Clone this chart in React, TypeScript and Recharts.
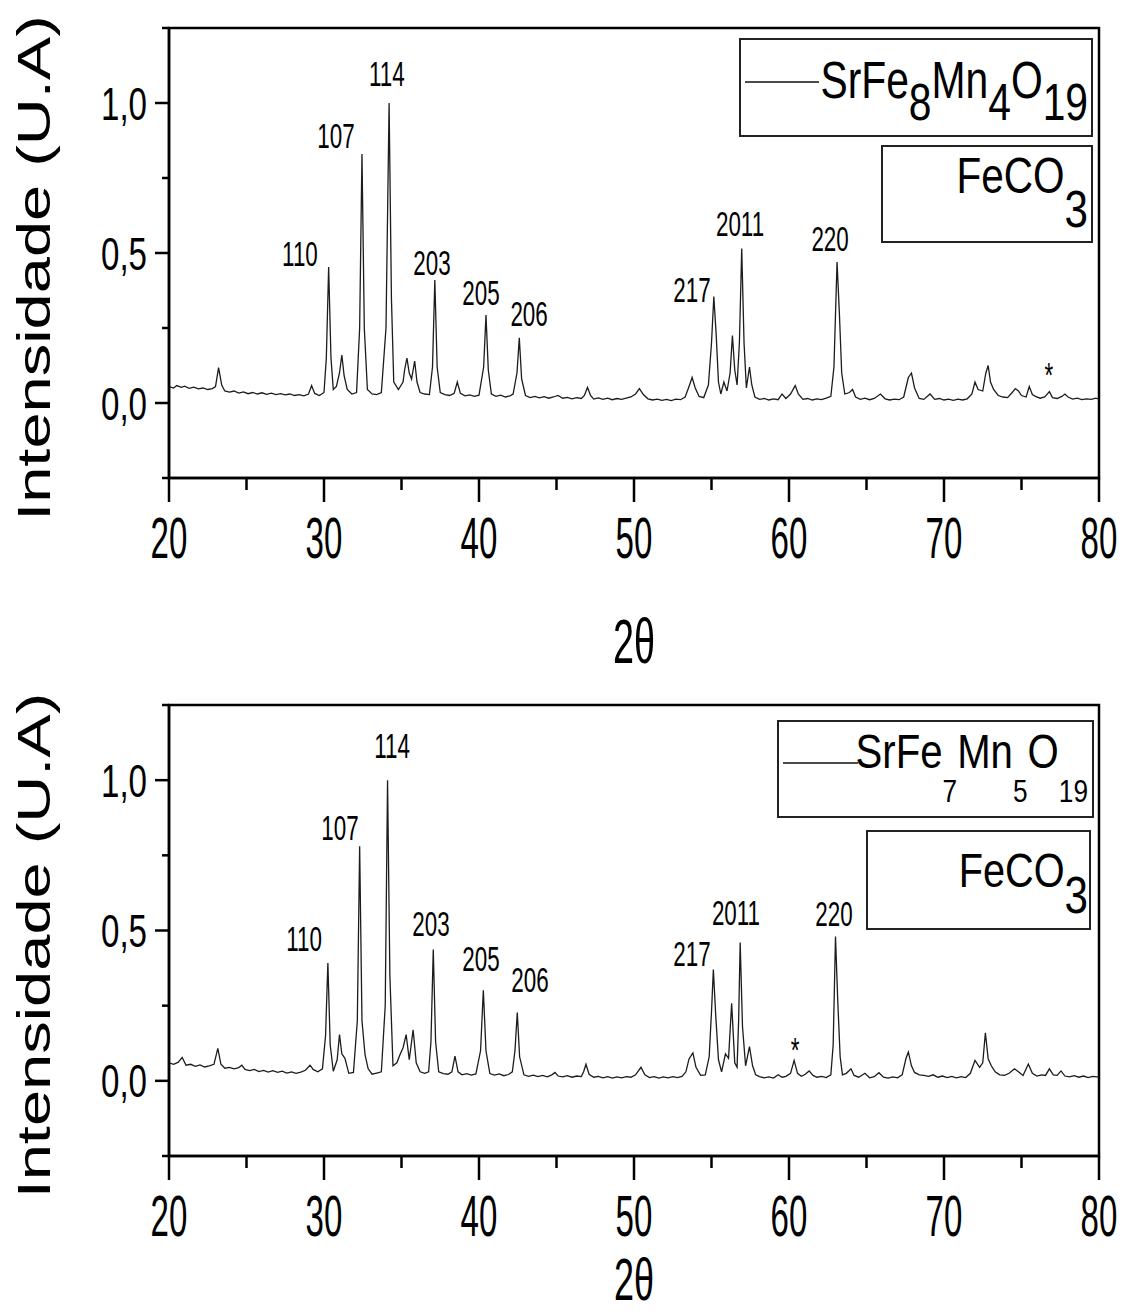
import React from "react";
import {
  ComposedChart,
  Line,
  Scatter,
  XAxis,
  YAxis,
  ReferenceArea,
  Legend,
} from "recharts";

// 2θ ticks (every 5°, labels on multiples of 10)
const xTicks = [20, 25, 30, 35, 40, 45, 50, 55, 60, 65, 70, 75, 80];
// intensity ticks (minor every 0.25, labels on 0, 0.5, 1)
const yTicks = [-0.25, 0, 0.25, 0.5, 0.75, 1, 1.25];
const yTickLabels: Record<string, string> = { "0": "0,0", "0.5": "0,5", "1": "1,0" };

const xTitle = "2θ";
const yTitle = "Intensidade (U.A)";

// legend formulas: even index = normal text, odd index = subscript
const topFormula = ["SrFe", "8", "Mn", "4", "O", "19"];
const bottomFormula = ["SrFe", "7", "Mn", "5", "O", "19"];
const impurityFormula = ["FeCO", "3"];

// SrFe8Mn4O19 pattern [2θ, intensity]
const topPattern: [number, number][] = [
  [20.0, 0.055], [20.3, 0.05], [20.5, 0.058], [20.8, 0.052], [21.0, 0.056], [21.3, 0.049],
  [21.6, 0.053], [21.9, 0.047], [22.2, 0.05], [22.5, 0.045], [22.8, 0.048], [23.0, 0.055],
  [23.2, 0.118], [23.4, 0.06], [23.6, 0.04], [23.9, 0.036], [24.2, 0.04], [24.5, 0.033],
  [24.8, 0.037], [25.1, 0.031], [25.4, 0.035], [25.7, 0.03], [26.0, 0.034], [26.3, 0.029],
  [26.6, 0.033], [26.9, 0.028], [27.2, 0.031], [27.5, 0.027], [27.8, 0.03], [28.1, 0.025],
  [28.4, 0.028], [28.7, 0.024], [29.0, 0.03], [29.2, 0.058], [29.4, 0.032], [29.7, 0.025],
  [30.0, 0.035], [30.15, 0.15], [30.3, 0.453], [30.45, 0.15], [30.6, 0.045], [30.8, 0.055],
  [31.0, 0.1], [31.15, 0.16], [31.3, 0.09], [31.5, 0.045], [31.8, 0.03], [32.1, 0.035],
  [32.3, 0.25], [32.45, 0.83], [32.6, 0.25], [32.8, 0.045], [33.1, 0.03], [33.4, 0.028],
  [33.7, 0.035], [34.0, 0.25], [34.2, 1.0], [34.35, 0.35], [34.5, 0.07], [34.8, 0.045],
  [35.1, 0.07], [35.2, 0.11], [35.35, 0.15], [35.5, 0.1], [35.65, 0.08], [35.85, 0.14],
  [36.0, 0.07], [36.2, 0.035], [36.5, 0.03], [36.8, 0.028], [37.0, 0.12], [37.15, 0.41],
  [37.3, 0.12], [37.5, 0.035], [37.8, 0.028], [38.1, 0.025], [38.4, 0.032], [38.6, 0.07],
  [38.8, 0.032], [39.1, 0.024], [39.4, 0.027], [39.7, 0.022], [40.0, 0.026], [40.3, 0.12],
  [40.45, 0.293], [40.6, 0.11], [40.8, 0.03], [41.1, 0.022], [41.4, 0.026], [41.7, 0.02],
  [42.0, 0.024], [42.2, 0.03], [42.45, 0.1], [42.6, 0.217], [42.75, 0.08], [43.0, 0.025],
  [43.3, 0.018], [43.6, 0.022], [43.9, 0.017], [44.2, 0.021], [44.5, 0.016], [44.8, 0.02],
  [45.1, 0.025], [45.4, 0.016], [45.7, 0.019], [46.0, 0.014], [46.3, 0.018], [46.6, 0.015],
  [46.8, 0.025], [47.0, 0.052], [47.2, 0.025], [47.4, 0.013], [47.7, 0.017], [48.0, 0.012],
  [48.3, 0.016], [48.6, 0.011], [48.9, 0.015], [49.2, 0.012], [49.5, 0.016], [49.8, 0.02],
  [50.1, 0.03], [50.35, 0.048], [50.6, 0.028], [50.9, 0.014], [51.2, 0.01], [51.5, 0.013],
  [51.8, 0.009], [52.1, 0.012], [52.4, 0.008], [52.7, 0.013], [53.0, 0.011], [53.3, 0.02],
  [53.55, 0.055], [53.75, 0.085], [53.95, 0.05], [54.2, 0.022], [54.5, 0.018], [54.8, 0.06],
  [55.0, 0.2], [55.15, 0.355], [55.3, 0.23], [55.45, 0.07], [55.6, 0.03], [55.8, 0.07],
  [56.0, 0.04], [56.2, 0.1], [56.35, 0.225], [56.5, 0.11], [56.65, 0.06], [56.8, 0.2],
  [56.95, 0.515], [57.1, 0.2], [57.25, 0.05], [57.45, 0.12], [57.6, 0.06], [57.8, 0.02],
  [58.1, 0.012], [58.4, 0.015], [58.7, 0.01], [59.0, 0.014], [59.3, 0.011], [59.55, 0.03],
  [59.8, 0.015], [60.1, 0.03], [60.4, 0.058], [60.6, 0.03], [60.9, 0.012], [61.2, 0.015],
  [61.5, 0.01], [61.8, 0.014], [62.1, 0.011], [62.4, 0.016], [62.7, 0.022], [62.9, 0.12],
  [63.1, 0.47], [63.25, 0.3], [63.4, 0.1], [63.6, 0.03], [63.9, 0.035], [64.1, 0.045],
  [64.3, 0.02], [64.6, 0.012], [64.9, 0.016], [65.2, 0.011], [65.5, 0.015], [65.9, 0.03],
  [66.2, 0.014], [66.5, 0.01], [66.8, 0.013], [67.1, 0.011], [67.4, 0.02], [67.7, 0.085],
  [67.9, 0.1], [68.1, 0.05], [68.4, 0.015], [68.7, 0.012], [69.1, 0.03], [69.4, 0.012],
  [69.7, 0.015], [70.0, 0.01], [70.3, 0.013], [70.6, 0.009], [70.9, 0.013], [71.2, 0.01],
  [71.5, 0.014], [71.8, 0.03], [72.0, 0.07], [72.2, 0.045], [72.5, 0.04], [72.7, 0.1],
  [72.85, 0.125], [73.0, 0.07], [73.2, 0.045], [73.5, 0.025], [73.8, 0.02], [74.1, 0.018],
  [74.4, 0.035], [74.6, 0.048], [74.8, 0.04], [75.0, 0.025], [75.3, 0.02], [75.5, 0.055],
  [75.7, 0.028], [75.9, 0.022], [76.2, 0.016], [76.5, 0.02], [76.8, 0.038], [77.0, 0.018],
  [77.3, 0.015], [77.6, 0.022], [77.8, 0.03], [78.0, 0.02], [78.3, 0.013], [78.6, 0.016],
  [78.9, 0.011], [79.2, 0.014], [79.5, 0.012], [79.8, 0.016], [80.0, 0.013],
];

// SrFe7Mn5O19 pattern [2θ, intensity]
const bottomPattern: [number, number][] = [
  [20.0, 0.06], [20.3, 0.055], [20.6, 0.062], [20.85, 0.078], [21.1, 0.052], [21.4, 0.055],
  [21.7, 0.048], [22.0, 0.053], [22.3, 0.046], [22.6, 0.05], [22.9, 0.055], [23.15, 0.108],
  [23.35, 0.055], [23.6, 0.042], [23.9, 0.045], [24.2, 0.04], [24.5, 0.044], [24.7, 0.052],
  [24.9, 0.038], [25.2, 0.034], [25.5, 0.038], [25.8, 0.031], [26.1, 0.035], [26.4, 0.029],
  [26.7, 0.034], [27.0, 0.028], [27.3, 0.032], [27.6, 0.026], [27.9, 0.03], [28.2, 0.025],
  [28.5, 0.029], [28.8, 0.035], [29.1, 0.052], [29.3, 0.038], [29.6, 0.03], [29.9, 0.04],
  [30.1, 0.15], [30.25, 0.392], [30.4, 0.12], [30.6, 0.032], [30.85, 0.07], [31.0, 0.154],
  [31.15, 0.09], [31.35, 0.075], [31.6, 0.025], [31.9, 0.028], [32.15, 0.2], [32.3, 0.78],
  [32.45, 0.2], [32.65, 0.086], [32.85, 0.04], [33.1, 0.022], [33.4, 0.026], [33.7, 0.03],
  [33.95, 0.25], [34.1, 1.0], [34.25, 0.35], [34.45, 0.05], [34.7, 0.06], [34.9, 0.087],
  [35.1, 0.11], [35.3, 0.154], [35.5, 0.07], [35.75, 0.17], [35.95, 0.06], [36.2, 0.03],
  [36.5, 0.025], [36.75, 0.03], [36.9, 0.13], [37.05, 0.437], [37.2, 0.13], [37.4, 0.03],
  [37.7, 0.024], [38.0, 0.022], [38.25, 0.03], [38.45, 0.082], [38.65, 0.03], [38.9, 0.02],
  [39.2, 0.024], [39.5, 0.019], [39.8, 0.023], [40.1, 0.1], [40.28, 0.301], [40.45, 0.1],
  [40.7, 0.024], [41.0, 0.019], [41.3, 0.023], [41.6, 0.017], [41.9, 0.021], [42.15, 0.03],
  [42.32, 0.1], [42.47, 0.227], [42.62, 0.08], [42.9, 0.02], [43.2, 0.015], [43.5, 0.019],
  [43.8, 0.014], [44.1, 0.018], [44.4, 0.013], [44.7, 0.02], [44.9, 0.028], [45.1, 0.016],
  [45.4, 0.013], [45.7, 0.017], [46.0, 0.012], [46.3, 0.016], [46.6, 0.014], [46.75, 0.03],
  [46.9, 0.055], [47.1, 0.022], [47.4, 0.012], [47.7, 0.015], [48.0, 0.01], [48.3, 0.014],
  [48.6, 0.009], [48.9, 0.013], [49.2, 0.01], [49.5, 0.014], [49.8, 0.012], [50.1, 0.02],
  [50.45, 0.045], [50.7, 0.02], [51.0, 0.011], [51.3, 0.014], [51.6, 0.009], [51.9, 0.013],
  [52.2, 0.01], [52.5, 0.014], [52.8, 0.011], [53.1, 0.015], [53.35, 0.03], [53.55, 0.073],
  [53.8, 0.093], [54.0, 0.045], [54.3, 0.018], [54.6, 0.02], [54.85, 0.08], [55.0, 0.23],
  [55.12, 0.37], [55.27, 0.22], [55.45, 0.07], [55.65, 0.03], [55.9, 0.09], [56.1, 0.075],
  [56.3, 0.258], [56.5, 0.06], [56.65, 0.045], [56.75, 0.2], [56.85, 0.46], [57.0, 0.18],
  [57.2, 0.05], [57.45, 0.114], [57.65, 0.05], [57.85, 0.02], [58.1, 0.014], [58.4, 0.01],
  [58.7, 0.013], [59.0, 0.009], [59.3, 0.02], [59.55, 0.012], [59.8, 0.015], [60.1, 0.025],
  [60.33, 0.068], [60.55, 0.025], [60.8, 0.015], [61.05, 0.022], [61.3, 0.033], [61.55, 0.018],
  [61.8, 0.012], [62.1, 0.015], [62.4, 0.011], [62.7, 0.02], [62.85, 0.12], [63.0, 0.48],
  [63.15, 0.26], [63.3, 0.08], [63.45, 0.02], [63.7, 0.025], [64.0, 0.04], [64.2, 0.018],
  [64.5, 0.012], [64.9, 0.025], [65.2, 0.01], [65.5, 0.014], [65.8, 0.027], [66.1, 0.012],
  [66.4, 0.009], [66.7, 0.013], [67.0, 0.01], [67.3, 0.02], [67.55, 0.075], [67.7, 0.096],
  [67.9, 0.05], [68.1, 0.028], [68.4, 0.02], [68.7, 0.018], [69.0, 0.015], [69.3, 0.02],
  [69.6, 0.012], [69.9, 0.016], [70.2, 0.011], [70.5, 0.015], [70.8, 0.01], [71.1, 0.014],
  [71.4, 0.011], [71.7, 0.025], [72.0, 0.068], [72.3, 0.045], [72.5, 0.06], [72.67, 0.16],
  [72.85, 0.073], [73.05, 0.05], [73.3, 0.03], [73.6, 0.02], [73.9, 0.018], [74.2, 0.025],
  [74.55, 0.04], [74.8, 0.03], [75.1, 0.018], [75.44, 0.056], [75.7, 0.025], [76.0, 0.016],
  [76.3, 0.02], [76.55, 0.018], [76.8, 0.04], [77.05, 0.02], [77.3, 0.018], [77.55, 0.033],
  [77.8, 0.016], [78.1, 0.013], [78.4, 0.017], [78.7, 0.012], [79.0, 0.016], [79.3, 0.011],
  [79.6, 0.015], [80.0, 0.012],
];

// Miller index annotations [2θ, intensity, text]
const topPeaks: [number, number, string][] = [
  [28.45, 0.5, "110"], [30.77, 0.893, "107"], [34.06, 1.1, "114"], [36.97, 0.47, "203"],
  [40.13, 0.37, "205"], [43.23, 0.297, "206"], [53.74, 0.38, "217"], [56.84, 0.597, "2011"],
  [62.65, 0.55, "220"], [76.77, 0.12, "*"],
];
const bottomPeaks: [number, number, string][] = [
  [28.71, 0.472, "110"], [31.03, 0.843, "107"], [34.39, 1.114, "114"], [36.9, 0.522, "203"],
  [40.13, 0.408, "205"], [43.29, 0.338, "206"], [53.74, 0.425, "217"], [56.58, 0.559, "2011"],
  [62.9, 0.555, "220"], [60.39, 0.13, "*"],
];

const FONT = '"Liberation Sans", Arial, Helvetica, sans-serif';
const INK = "#000";

function XTick(props: any) {
  const { x, y, payload } = props;
  const v = payload.value;
  const major = v % 10 === 0;
  return (
    <g>
      <line x1={x} x2={x} y1={y} y2={y + (major ? 24 : 12)} stroke={INK} strokeWidth={2.5} />
      {major && (
        <text
          transform={`translate(${x},${y + 80}) scale(0.57,1)`}
          textAnchor="middle"
          fontSize={58}
          fontFamily={FONT}
          fill={INK}
        >
          {v}
        </text>
      )}
    </g>
  );
}

function YTick(props: any) {
  const { x, y, payload } = props;
  const label = yTickLabels[String(payload.value)];
  return (
    <g>
      <line x1={x} x2={x - (label ? 14 : 7)} y1={y} y2={y} stroke={INK} strokeWidth={2.5} />
      {label && (
        <text
          transform={`translate(${x - 22},${y + 16.5}) scale(0.72,1)`}
          textAnchor="end"
          fontSize={46}
          fontFamily={FONT}
          fill={INK}
        >
          {label}
        </text>
      )}
    </g>
  );
}

function XTitle(props: any) {
  const { viewBox, gap, size } = props;
  const cx = viewBox.x + viewBox.width / 2;
  return (
    <text
      transform={`translate(${cx},${viewBox.y + gap}) scale(0.6,1)`}
      textAnchor="middle"
      fontSize={size}
      fontFamily={FONT}
      fill={INK}
    >
      {xTitle}
    </text>
  );
}

function YTitle(props: any) {
  const { viewBox } = props;
  const cy = viewBox.y + viewBox.height / 2 + 15;
  return (
    <text
      transform={`translate(50,${cy}) rotate(-90) scale(1,0.72)`}
      textAnchor="middle"
      fontSize={65}
      fontFamily={FONT}
      fill={INK}
    >
      {yTitle}
    </text>
  );
}

function PeakLabel(props: any) {
  const { cx, cy, payload } = props;
  const star = payload.label === "*";
  return (
    <text
      transform={`translate(${cx},${cy + (star ? 20 : 12.5)}) scale(0.64,1)`}
      textAnchor="middle"
      fontSize={35}
      fontFamily={FONT}
      fill={INK}
    >
      {payload.label}
    </text>
  );
}

function Formula({ parts, x, y, size, subSize, shift, squeeze }: any) {
  return (
    <text
      transform={`translate(${x},${y}) scale(${squeeze},1)`}
      textAnchor="end"
      fontFamily={FONT}
      fill={INK}
      fontSize={size}
    >
      {parts.map((p: string, i: number) => (
        <tspan
          key={i}
          fontSize={i % 2 === 1 ? subSize : size}
          dy={i === 0 ? 0 : i % 2 === 1 ? shift : -shift}
        >
          {p}
        </tspan>
      ))}
    </text>
  );
}

type Box = { x: number; y: number; w: number; h: number };

function LegendBoxes(props: any) {
  const { w, h, main, mainBox, sample, mainText, second, secondBox, secondText } = props;
  return (
    <svg width={w} height={h} style={{ position: "absolute", left: 0, top: 0, overflow: "visible" }}>
      <rect x={mainBox.x} y={mainBox.y} width={mainBox.w} height={mainBox.h} fill="#fff" stroke="#222" strokeWidth={2} />
      <line x1={sample.x1} x2={sample.x2} y1={sample.y} y2={sample.y} stroke="#111" strokeWidth={1.6} />
      <Formula parts={main} {...mainText} />
      <rect x={secondBox.x} y={secondBox.y} width={secondBox.w} height={secondBox.h} fill="#fff" stroke="#222" strokeWidth={2} />
      <Formula parts={second} {...secondText} />
    </svg>
  );
}

function Panel(props: any) {
  const { pattern, peaks, height, top, axisH, titleGap, titleSize, legend, name } = props;
  const data = pattern.map(([x, y]: [number, number]) => ({ x, y }));
  const peakData = peaks.map(([x, y, label]: [number, number, string]) => ({ x, y, label }));
  return (
    <ComposedChart
      width={1123}
      height={height}
      data={data}
      margin={{ top, right: 24, bottom: 0, left: 0 }}
    >
      <XAxis
        dataKey="x"
        type="number"
        domain={[20, 80]}
        ticks={xTicks}
        interval={0}
        height={axisH}
        tickSize={0}
        tickMargin={0}
        tickLine={false}
        tick={<XTick />}
        axisLine={{ stroke: INK, strokeWidth: 2.5 }}
        label={<XTitle gap={titleGap} size={titleSize} />}
        allowDataOverflow
      />
      <YAxis
        type="number"
        domain={[-0.25, 1.25]}
        ticks={yTicks}
        interval={0}
        width={169}
        tickSize={0}
        tickMargin={0}
        tickLine={false}
        tick={<YTick />}
        axisLine={{ stroke: INK, strokeWidth: 2.5 }}
        label={<YTitle />}
        allowDataOverflow
      />
      <ReferenceArea x1={20} x2={80} y1={-0.25} y2={1.25} fill="none" stroke={INK} strokeWidth={2.5} />
      <Line
        type="linear"
        dataKey="y"
        name={name}
        stroke="#1c1c1c"
        strokeWidth={1.3}
        dot={false}
        isAnimationActive={false}
      />
      <Scatter data={peakData} dataKey="y" shape={<PeakLabel />} isAnimationActive={false} legendType="none" />
      <Legend
        layout="horizontal"
        verticalAlign="middle"
        align="center"
        wrapperStyle={{ left: 0, top: 0, width: 1123, height, pointerEvents: "none" }}
        content={() => <LegendBoxes w={1123} h={height} {...legend} />}
      />
    </ComposedChart>
  );
}

export default function App() {
  return (
    <div style={{ width: 1123, height: 1315, background: "#fff", position: "relative" }}>
      <style>{"body{margin:0;background:#fff}"}</style>
      <Panel
        name="SrFe8Mn4O19"
        pattern={topPattern}
        peaks={topPeaks}
        height={690}
        top={28}
        axisH={212}
        titleGap={185}
        titleSize={63}
        legend={{
          main: topFormula,
          mainBox: { x: 740, y: 39, w: 352, h: 97 } as Box,
          sample: { x1: 745, x2: 819, y: 82 },
          mainText: { x: 1088, y: 98, size: 51, subSize: 51, shift: 22, squeeze: 0.8 },
          second: impurityFormula,
          secondBox: { x: 882, y: 146, w: 210, h: 96 } as Box,
          secondText: { x: 1088, y: 193, size: 50, subSize: 52, shift: 34, squeeze: 0.81 },
        }}
      />
      <Panel
        name="SrFe7Mn5O19"
        pattern={bottomPattern}
        peaks={bottomPeaks}
        height={625}
        top={15}
        axisH={159}
        titleGap={144}
        titleSize={60}
        legend={{
          main: bottomFormula,
          mainBox: { x: 778, y: 31, w: 315, h: 96 } as Box,
          sample: { x1: 783, x2: 858, y: 73 },
          mainText: { x: 1088, y: 78, size: 49, subSize: 32, shift: 34, squeeze: 0.82 },
          second: impurityFormula,
          secondBox: { x: 867, y: 141, w: 223, h: 98 } as Box,
          secondText: { x: 1088, y: 197, size: 49, subSize: 52, shift: 26, squeeze: 0.81 },
        }}
      />
    </div>
  );
}
